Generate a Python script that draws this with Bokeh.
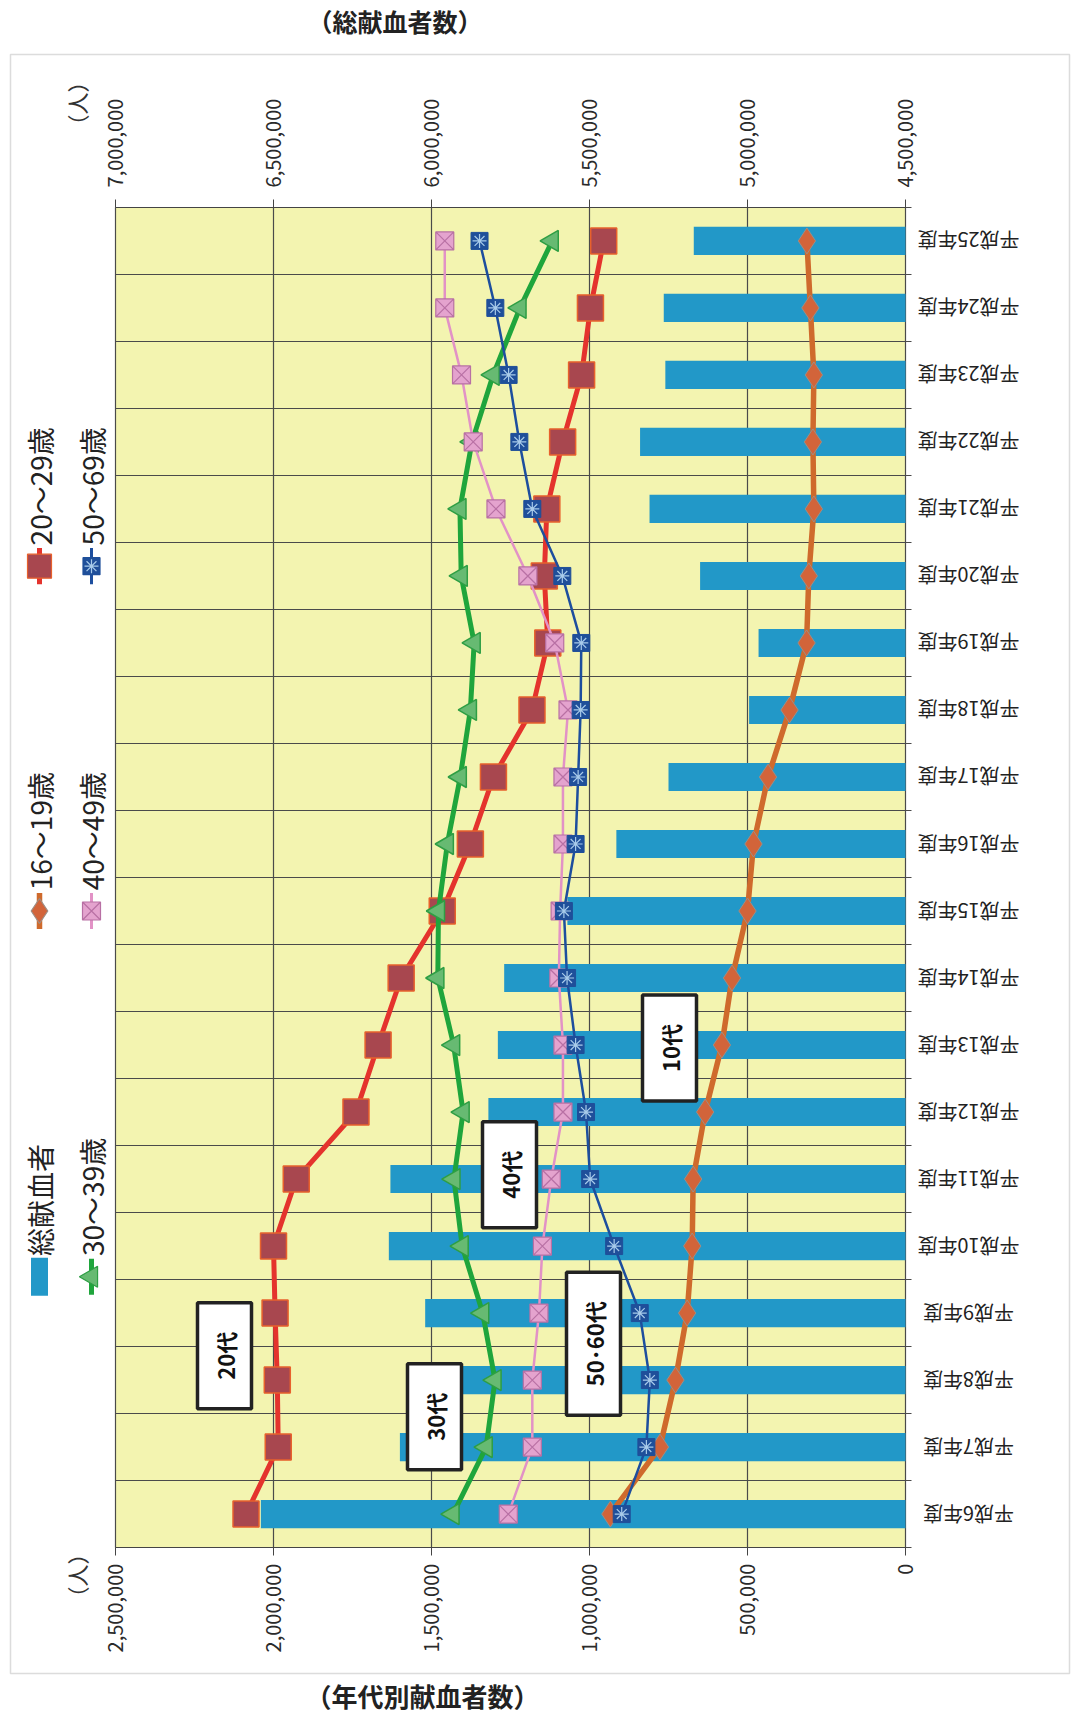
import math
from bokeh.plotting import figure
from bokeh.models import (Range1d, FactorRange, LinearAxis, FixedTicker, NumeralTickFormatter,
                          BoxAnnotation, Label, LabelSet, ColumnDataSource)
from bokeh.core.properties import value
from bokeh.embed import file_html
from bokeh.resources import INLINE

# ---------------- data ----------------
categories = ["平成6年度", "平成7年度", "平成8年度", "平成9年度", "平成10年度",
              "平成11年度", "平成12年度", "平成13年度", "平成14年度", "平成15年度",
              "平成16年度", "平成17年度", "平成18年度", "平成19年度", "平成20年度",
              "平成21年度", "平成22年度", "平成23年度", "平成24年度", "平成25年度"]

total_donors = [6540000, 6100000, 6000000, 6020000, 6135000, 6130000, 5820000, 5790000,
                5770000, 5570000, 5415000, 5250000, 4995000, 4965000, 5150000, 5310000,
                5340000, 5260000, 5265000, 5170000]
age_16_19 = [934000, 777000, 728000, 691000, 675000, 672000, 634000, 581000, 549000, 500000,
             481000, 435000, 367000, 313000, 306000, 290000, 293000, 290000, 301000, 312000]
age_20_29 = [2087000, 1985000, 1988000, 1995000, 2000000, 1928000, 1739000, 1669000, 1596000,
             1466000, 1377000, 1304000, 1182000, 1132000, 1143000, 1135000, 1085000, 1025000,
             997000, 955000]
age_30_39 = [1432000, 1327000, 1299000, 1338000, 1403000, 1429000, 1400000, 1430000, 1480000,
             1478000, 1450000, 1409000, 1377000, 1365000, 1406000, 1410000, 1372000, 1305000,
             1220000, 1118000]
age_40_49 = [1257000, 1181000, 1181000, 1160000, 1149000, 1121000, 1084000, 1084000, 1097000,
             1093000, 1084000, 1084000, 1068000, 1110000, 1195000, 1296000, 1368000, 1405000,
             1458000, 1458000]
age_50_69 = [898000, 820000, 809000, 841000, 922000, 998000, 1011000, 1044000, 1071000,
             1081000, 1044000, 1036000, 1028000, 1026000, 1086000, 1181000, 1222000, 1256000,
             1298000, 1348000]

age_ticks = [0, 500000, 1000000, 1500000, 2000000, 2500000]
total_ticks = [4500000, 5000000, 5500000, 6000000, 6500000, 7000000]
legend_labels = ["総献血者", "16～19歳", "20～29歳", "30～39歳", "40～49歳", "50～69歳"]
group_labels = ["20代", "30代", "40代", "50･60代", "10代"]
title_top = "（総献血者数）"
title_bottom = "（年代別献血者数）"
unit_label = "（人）"

# ---------------- geometry (page px -> plot coordinates) ----------------
FONT = "Noto Sans CJK JP"
W, H = 1072, 1716
TOP_BORDER = 37
PLOT_L, PLOT_R, PLOT_T, PLOT_B = 115, 905, 206, 1547
AGE_MAX = 2500000
TOT_MIN = 4500000
N = len(categories)
PX_PER_UNIT = (PLOT_R - PLOT_L) / AGE_MAX
CAT_H = (PLOT_B - PLOT_T) / N
PAD = (H - PLOT_B) / CAT_H            # same padding above (PLOT_T - TOP_BORDER)


def vx(px):   # page x -> age-axis value
    return (PLOT_R - px) / PX_PER_UNIT


def cy(py):   # page y -> synthetic category coordinate
    return (PLOT_B - py) / CAT_H


p = figure(width=W, height=H, x_range=Range1d(vx(0), vx(W)),
           y_range=FactorRange(factors=categories, range_padding=PAD,
                               range_padding_units="absolute"),
           y_axis_location=None, output_backend="svg", toolbar_location=None,
           min_border_left=0, min_border_right=0, min_border_top=TOP_BORDER,
           min_border_bottom=0)
p.extra_x_ranges = {"total": Range1d(TOT_MIN + vx(0), TOT_MIN + vx(W))}
p.outline_line_color = None
p.background_fill_color = "white"
p.border_fill_color = "white"

# top title
p.title.text = title_top
p.title.align = "left"
p.title.offset = 307
p.title.standoff = 0
p.title.text_font = FONT
p.title.text_font_size = "25px"
p.title.text_font_style = "bold"
p.title.text_color = "#222222"

# plot-area background
p.add_layout(BoxAnnotation(left=AGE_MAX, right=0, top=N, bottom=0, fill_color="#F3F4B0",
                           fill_alpha=1.0, line_color=None, level="image"))

# grids
GRID = "#4a4a4a"
p.xgrid.ticker = FixedTicker(ticks=age_ticks)
p.xgrid.bounds = (0, AGE_MAX)
p.xgrid.cross_bounds = (0, N)
p.xgrid.grid_line_color = GRID
p.xgrid.grid_line_width = 1.2
p.ygrid.ticker = FixedTicker(ticks=list(range(0, N + 1)))
p.ygrid.cross_bounds = (vx(911), AGE_MAX)
p.ygrid.grid_line_color = GRID
p.ygrid.grid_line_width = 1.2

# axes (drawn at fixed locations on the plot-area edges)
bottom = p.xaxis[0]
bottom.ticker = FixedTicker(ticks=age_ticks)
bottom.bounds = (0, AGE_MAX)
bottom.fixed_location = 0
bottom.major_label_standoff = 8
top = LinearAxis(x_range_name="total", ticker=FixedTicker(ticks=total_ticks),
                 bounds=(TOT_MIN, TOT_MIN + AGE_MAX), fixed_location=N)
top.major_label_standoff = 12
p.add_layout(top, "above")
for ax in (bottom, top):
    ax.formatter = NumeralTickFormatter(format="0,0")
    ax.major_label_orientation = math.pi / 2
    ax.major_label_text_font = FONT
    ax.major_label_text_font_size = "20px"
    ax.major_label_text_color = "#2a2a2a"
    ax.axis_line_color = "#444444"
    ax.axis_line_width = 1.2
    ax.major_tick_line_color = "#444444"
    ax.major_tick_out = 8
    ax.major_tick_in = 0
    ax.minor_tick_line_color = None

# bars: total donors (top axis)
BAR = "#2298C8"
p.hbar(y=categories, left=TOT_MIN, right=total_donors, height=0.42,
       x_range_name="total", fill_color=BAR, line_color=None)

# 16-19
p.line(age_16_19, categories, line_color="#CF6A2C", line_width=5.5)
p.scatter(age_16_19, categories, marker="diamond", size=26, fill_color="#D2643A",
          line_color="#9C8E86", line_width=1)
# 20-29
p.line(age_20_29, categories, line_color="#E4332D", line_width=5)
p.scatter(age_20_29, categories, marker="square", size=26, fill_color="#A8474F",
          line_color="#E8612C", line_width=1.5)
# 30-39
p.line(age_30_39, categories, line_color="#1FA53C", line_width=5)
p.scatter(age_30_39, categories, marker="triangle", angle=math.pi / 2, size=21,
          fill_color="#67BA72", line_color="#2E9E44", line_width=1.5)
# 40-49
p.line(age_40_49, categories, line_color="#E292C6", line_width=2.5)
p.scatter(age_40_49, categories, marker="square_x", size=18, fill_color="#E4A3CE",
          line_color="#B870A4", line_width=1.2)
# 50-69
p.line(age_50_69, categories, line_color="#1D4E9E", line_width=2.5)
p.scatter(age_50_69, categories, marker="square", size=17, fill_color="#1F4F9A",
          line_color="#1F4F9A", line_width=1)
p.scatter(age_50_69, categories, marker="asterisk", size=14, line_color="#A8CBEA",
          line_width=1.2)

# ---------------- legend (rotated, left margin) ----------------
col1, col2 = vx(39), vx(91)
rowA, rowB, rowC = cy(565), cy(910), cy(1276)
HALF = 0.27
TXT = 0.31
leg_x = [col1, col1, col1, col2, col2, col2]
leg_y = [rowC + TXT, rowB + TXT, rowA + TXT, rowC + TXT, rowB + TXT, rowA + TXT]
p.text(x=leg_x, y=leg_y, text=legend_labels, angle=math.pi / 2, text_align="left",
       text_baseline="middle", text_font=value(FONT), text_font_size="28px",
       text_color="#222222")
p.rect(x=[col1], y=[rowC], width=17, height=38, width_units="screen", height_units="screen",
       fill_color=BAR, line_color=None)
icons = [
    (col1, rowB, "#CF6A2C", 5.5, "diamond", 25, "#D2643A", "#9C8E86", 0),
    (col1, rowA, "#E4332D", 5, "square", 24, "#A8474F", "#E8612C", 0),
    (col2, rowC, "#1FA53C", 5, "triangle", 21, "#67BA72", "#2E9E44", math.pi / 2),
    (col2, rowB, "#E292C6", 3, "square_x", 18, "#E4A3CE", "#B870A4", 0),
    (col2, rowA, "#1D4E9E", 3, "square", 17, "#1F4F9A", "#1F4F9A", 0),
]
for (ix, iy, lc, lw, mk, ms, fc, mc, ang) in icons:
    p.segment(x0=[ix], y0=[iy - HALF], x1=[ix], y1=[iy + HALF], line_color=lc, line_width=lw)
    p.scatter([ix], [iy], marker=mk, size=ms, fill_color=fc, line_color=mc, angle=ang,
              line_width=1.2)
p.scatter([col2], [rowA], marker="asterisk", size=14, line_color="#A8CBEA", line_width=1.2)

# ---------------- category labels (upside-down, right of the plot) ----------------
cat_src = ColumnDataSource(dict(cat=categories))
p.add_layout(LabelSet(x=vx(968), y="cat", text="cat", source=cat_src,
                      angle=math.pi, text_align="center", text_baseline="middle",
                      text_font=value(FONT), text_font_size="20px", text_color="#222222"))

# ---------------- group call-out boxes ----------------
group_pos = [(224, 1355), (434, 1416), (509, 1174), (593, 1343), (669, 1047)]
for txt, (gx, gy) in zip(group_labels, group_pos):
    p.add_layout(Label(x=vx(gx), y=cy(gy), text=txt, angle=math.pi / 2,
                       text_align="center", text_baseline="middle", text_font=FONT,
                       text_font_size="22px", text_font_style="bold", text_color="#111111",
                       background_fill_color="white", border_line_color="#222222",
                       border_line_width=3.5, padding=(29, 11)))

# ---------------- bottom title / units ----------------
p.add_layout(Label(x=vx(422), y=cy(1695), text=title_bottom, text_align="center",
                   text_baseline="middle", text_font=FONT, text_font_size="26px",
                   text_font_style="bold", text_color="#222222"))
for uy in (102, 1575):
    p.add_layout(Label(x=vx(75), y=cy(uy), text=unit_label, angle=math.pi / 2,
                       text_align="center", text_baseline="middle", text_font=FONT,
                       text_font_size="22px", text_color="#333333"))

# ---------------- outer frame ----------------
p.add_layout(BoxAnnotation(left=vx(10), right=vx(1069), top=cy(53), bottom=cy(1673),
                           fill_color=None, line_color="#8a8a8a", line_width=1.5,
                           level="overlay"))

open("out.html", "w").write(file_html(p, INLINE))
